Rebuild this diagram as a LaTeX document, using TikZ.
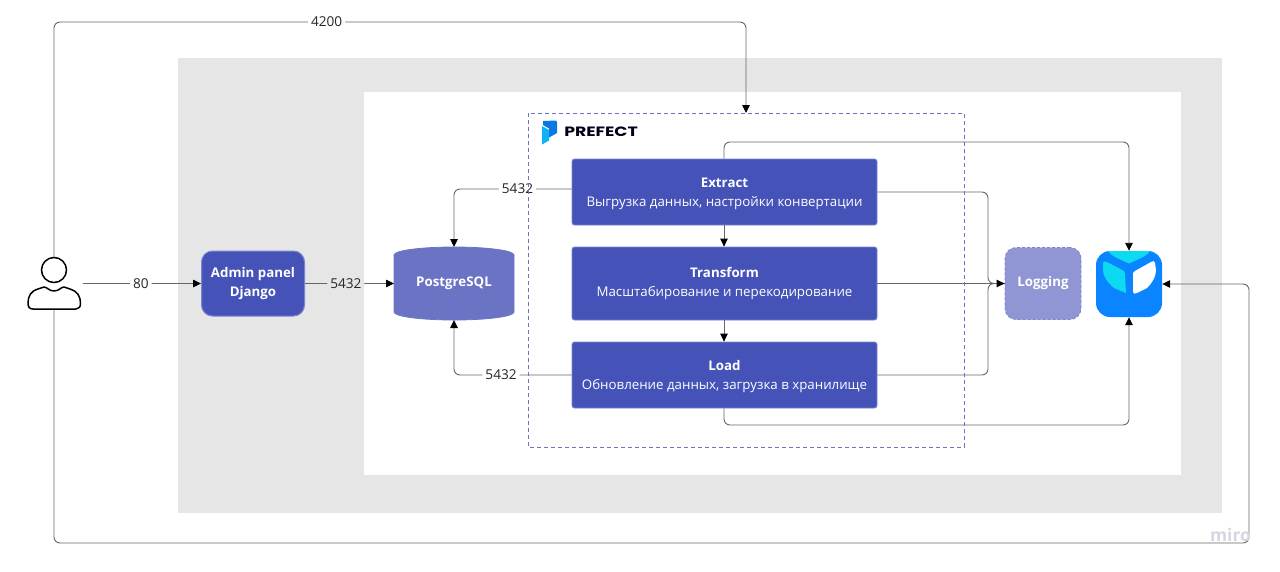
\documentclass[tikz,border=0pt]{standalone}
\usepackage{fontspec}
\setmainfont{Open Sans}
\newfontfamily\logofont{Poppins}
\usetikzlibrary{arrows.meta}
\definecolor{boxblue}{HTML}{4552B8}
\definecolor{boxedge}{HTML}{7C85D0}
\definecolor{pgblue}{HTML}{6A73C4}
\definecolor{logblue}{HTML}{9096D4}
\definecolor{panelgrey}{HTML}{E6E6E6}
\definecolor{wire}{HTML}{666666}
\definecolor{framecol}{HTML}{7272C4}
\definecolor{iconblue}{HTML}{0A84FF}
\definecolor{iconcyan}{HTML}{0DD9F0}
\definecolor{miromark}{HTML}{D6D6E2}
\tikzset{
  x=1pt,y=-1pt,
  procbox/.style={draw=boxedge,line width=0.8pt,fill=boxblue,rounded corners=2.5pt,text=white,align=center,minimum width=305pt,font=\fontsize{13.3}{19}\selectfont,inner sep=0pt},
  wireline/.style={draw=wire,line width=0.9pt,rounded corners=6pt},
  arrowed/.style={wireline,-{Triangle[length=8pt,width=7.5pt,color=black]}},
  portlabel/.style={fill=white,inner sep=3pt,text=black!85,font=\fontsize{13.6}{15}\selectfont},
  portgrey/.style={fill=panelgrey,inner sep=3pt,text=black!85,font=\fontsize{13.6}{15}\selectfont},
  titletext/.style={font=\fontsize{13.3}{19}\selectfont\bfseries,text=white,align=center,inner sep=0pt}
}
\begin{document}
\begin{tikzpicture}
\useasboundingbox (0,0) rectangle (1280,571);
\fill[white] (0,0) rectangle (1280,571);
\fill[panelgrey] (178,58) rectangle (1222,513);
\fill[white] (364,92) rectangle (1181,475);

% Prefect logo
\fill[iconblue!90!black] (543,121) -- (556,120.5) -- (557,122) -- (557,133) -- (549,137.5) -- (549,128.5) -- (543,125) -- cycle;
\fill[iconcyan!55!iconblue] (542,126) -- (549,130) -- (549,140.5) -- (542,144.5) -- cycle;
\node[anchor=west,inner sep=0pt,xscale=1.28,font=\logofont\fontsize{13.5}{15}\selectfont\bfseries,text=black!90!blue] (prefectword) at (564,132) {PREFECT};

% Nodes
\node[procbox,minimum height=66pt] (extract) at (724.5,192) {\rule{0pt}{13pt}\textbf{Extract}\\Выгрузка данных, настройки конвертации};
\node[procbox,minimum height=73pt] (transform) at (724.5,283.5) {\textbf{Transform}\\Масштабирование и перекодирование};
\node[procbox,minimum height=66pt] (load) at (724.5,375) {\rule{0pt}{13pt}\textbf{Load}\\Обновление данных, загрузка в хранилище};
\node[draw=boxedge,line width=1pt,fill=boxblue,rounded corners=11pt,minimum width=103pt,minimum height=65pt,inner sep=0pt,titletext] (admin) at (253,283.5) {Admin panel\\Django};
\node[draw=boxblue!70,line width=0.8pt,dash pattern=on 3pt off 2pt,fill=logblue,rounded corners=11pt,minimum width=76pt,minimum height=72pt,inner sep=0pt,titletext] (logging) at (1043,283.5) {Logging};

% PostgreSQL cylinder
\coordinate (pgtop) at (454,247);
\coordinate (pgbottom) at (454,320);
\coordinate (pgwest) at (394,283.5);
\filldraw[fill=pgblue,draw=boxblue!80,line width=0.8pt] (394,255) -- (394,312) .. controls (394,316.5) and (421,320) .. (454,320) .. controls (487,320) and (514,316.5) .. (514,312) -- (514,255) .. controls (514,250.5) and (487,247) .. (454,247) .. controls (421,247) and (394,250.5) .. (394,255) -- cycle;
\draw[boxblue!80,line width=0.8pt] (394,255) .. controls (394,259.5) and (421,263) .. (454,263) .. controls (487,263) and (514,259.5) .. (514,255);
\node[titletext] (pgtext) at (454,283) {PostgreSQL};

% Storage icon
\node[fill=iconblue,rounded corners=14pt,minimum width=66pt,minimum height=66pt,inner sep=0pt] (store) at (1129,284) {};
\fill[iconcyan] (1108,251) -- (1150,251) .. controls (1146,257) and (1136,260) .. (1129,263.5) .. controls (1122,260) and (1112,257) .. cycle;
\fill[iconcyan] (1103,264) .. controls (1103,261) and (1105,261) .. (1107,262) -- (1124,271) .. controls (1125,272) and (1125,273) .. (1125,274) -- (1126,293) -- (1114,288) .. controls (1107,282) and (1103,276) .. (1103,270) -- cycle;
\fill[white] (1155,263) .. controls (1155,261) and (1153,260) .. (1151,262) -- (1135,271) .. controls (1133,272) and (1133,273) .. (1133,275) -- (1133,292) .. controls (1133,294) and (1135,294) .. (1137,293) -- (1147,288) .. controls (1153,282) and (1156,276) .. (1156,270) -- cycle;

% User icon
\coordinate (usertop) at (54,257);
\coordinate (userbottom) at (54,310);
\coordinate (userright) at (83,283.5);
\draw[black,line width=1.5pt] (54,270) circle[radius=12.5];
\draw[black,line width=1.5pt,line join=round,fill=white] (33,309) .. controls (29.5,309) and (28,307) .. (28,303) .. controls (28,296) and (31,291) .. (38,289) -- (44,287) .. controls (47,287) and (49,291) .. (54,291) .. controls (59,291) and (61,287) .. (64,287) -- (70,289) .. controls (77,291) and (80.5,296) .. (80.5,303) .. controls (80.5,307) and (79,309) .. (76,309) -- cycle;

% Connectors
\draw[arrowed] (userright) -- node[portlabel,pos=0.49] (l80) {80} (admin.west);
\draw[arrowed] (usertop) -- (54,22) -- node[portlabel,pos=0.394] (l4200) {4200} (746,22) -- (746,113);
\draw[arrowed] (userbottom) -- (54,543) -- (1249,543) -- (1249,284) -- (store.east);
\draw[arrowed] (admin.east) -- node[portgrey,pos=0.46] (l5432a) {5432} (pgwest);
\draw[arrowed] (extract.west |- 0,189) -- node[portlabel,pos=0.46] (l5432b) {5432} (454,189) -- (pgtop);
\draw[arrowed] (load.west) -- node[portlabel,pos=0.6] (l5432c) {5432} (454,375) -- (pgbottom);
\draw[arrowed] (extract.south -| 724,0) -- (transform.north -| 724,0);
\draw[arrowed] (transform.south -| 724,0) -- (load.north -| 724,0);
\draw[arrowed] (extract.north -| 724,0) -- (724,142) -- (1129,142) -- (store.north);
\draw[arrowed] (load.south -| 724,0) -- (724,425) -- (1129,425) -- (store.south);
\draw[wireline] (extract.east) -- (988,192) -- (988,283.5) -- (logging.west);
\draw[wireline] (load.east) -- (988,375) -- (988,283.5) -- (logging.west);
\draw[arrowed] (transform.east) -- (logging.west);

% Frame over the wires and labels
\draw[draw=framecol,line width=0.9pt,dash pattern=on 4pt off 3pt] (528,113) rectangle (964,447);

% Watermark
\node[text=miromark,font=\fontsize{17.5}{19}\selectfont\bfseries,inner sep=0pt] (miro) at (1230.5,535) {miro};
\end{tikzpicture}
\end{document}
